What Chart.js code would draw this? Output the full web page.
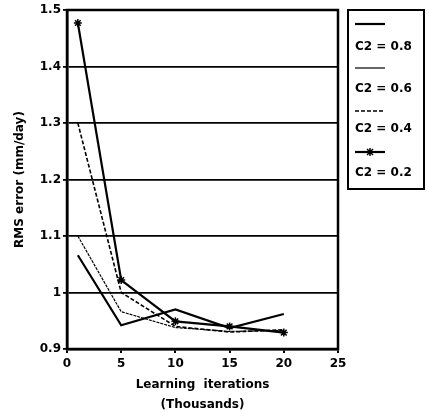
<!DOCTYPE html>
<html>
<head>
<meta charset="utf-8">
<script src="https://cdn.jsdelivr.net/npm/chart.js@4"></script>
<style>
  html, body { margin: 0; padding: 0; background: #fff; }
  #wrap { position: relative; width: 428px; height: 413px; }
  #chart { position: absolute; left: 0; top: 0; }
  #legend {
    position: absolute; left: 347px; top: 9px; width: 74px; height: 177px;
    border: 2px solid #000; font-family: "DejaVu Sans", sans-serif;
    font-weight: bold; font-size: 12px; color: #000;
  }
  #legend .item { position: absolute; left: 6px; line-height: 14px; }
  #legend svg { position: absolute; left: 6px; }
</style>
</head>
<body>
<div id="wrap">
  <canvas id="chart" width="428" height="413"></canvas>
  <div id="legend"></div>
</div>
<script>
const iterations = [1, 5, 10, 15, 20];
const c08 = [1.066, 0.942, 0.970, 0.937, 0.962];
const c06 = [1.100, 0.966, 0.938, 0.931, 0.933];
const c04 = [1.300, 1.000, 0.940, 0.930, 0.934];
const c02 = [1.477, 1.022, 0.949, 0.940, 0.929];
const seriesNames = ['C2 = 0.8', 'C2 = 0.6', 'C2 = 0.4', 'C2 = 0.2'];
const xTicks = [0, 5, 10, 15, 20, 25];
const yTicks = [0.9, 1.0, 1.1, 1.2, 1.3, 1.4, 1.5];

const FONT = '"DejaVu Sans", sans-serif';
const styles = [
  { borderWidth: 2.2, borderDash: [], pointRadius: 0 },
  { borderWidth: 1.2, borderDash: [3, 1], pointRadius: 0 },
  { borderWidth: 1.6, borderDash: [4, 2], pointRadius: 0 },
  { borderWidth: 2.2, borderDash: [], pointRadius: 4, pointStyle: 'star' }
];
// legend samples (the thin series shows as a plain thin line there)
const legendDash = [[], [], [4, 2], []];

const pts = arr => arr.map((v, i) => ({ x: iterations[i], y: v }));

// frame around the plot area
const frame = {
  id: 'frame',
  afterDraw(chart) {
    const { ctx, chartArea: a } = chart;
    ctx.save();
    ctx.strokeStyle = '#000';
    ctx.lineWidth = 2.5;
    ctx.strokeRect(a.left, a.top, a.right - a.left, a.bottom - a.top);
    ctx.restore();
  }
};

new Chart(document.getElementById('chart'), {
  type: 'line',
  data: {
    datasets: [c08, c06, c04, c02].map((d, i) => ({
      label: seriesNames[i],
      data: pts(d),
      borderColor: '#000',
      backgroundColor: '#000',
      pointBorderColor: '#000',
      pointBorderWidth: 1.5,
      tension: 0,
      ...styles[i]
    }))
  },
  options: {
    responsive: false,
    animation: false,
    layout: { padding: { top: 10, right: 90, left: 13, bottom: 0 } },
    plugins: { legend: { display: false }, tooltip: { enabled: false } },
    scales: {
      x: {
        type: 'linear', min: 0, max: 25,
        afterBuildTicks: s => { s.ticks = xTicks.map(v => ({ value: v })); },
        afterFit: s => { s.height = 64; },
        grid: { drawOnChartArea: false, color: '#000', lineWidth: 2, tickLength: 4 },
        border: { color: '#000', width: 2.5 },
        ticks: { color: '#000', font: { family: FONT, size: 12, weight: 'bold' }, padding: 4, maxRotation: 0 },
        title: {
          display: true, text: ['Learning  iterations', '(Thousands)'], color: '#000',
          font: { family: FONT, size: 12, weight: 'bold', lineHeight: 1.65 }, padding: { top: 4, bottom: -2 }
        }
      },
      y: {
        min: 0.9, max: 1.5,
        afterBuildTicks: s => { s.ticks = yTicks.map(v => ({ value: v })); },
        afterFit: s => { s.width = 54; },
        grid: { color: '#000', lineWidth: 1.8, tickLength: 4 },
        border: { color: '#000', width: 2.5 },
        ticks: {
          color: '#000', font: { family: FONT, size: 12, weight: 'bold' }, padding: 2,
          callback: v => Math.abs(v - 1) < 1e-9 ? '1' : v.toFixed(1)
        },
        title: {
          display: true, text: 'RMS error (mm/day)', color: '#000',
          font: { family: FONT, size: 12, weight: 'bold' }, padding: { top: 0, bottom: 4 }
        }
      }
    }
  },
  plugins: [frame]
});

// legend: line sample above each label
const legend = document.getElementById('legend');
const sampleY = [13, 57, 100, 141];
const textY = [28, 70, 110, 154];
seriesNames.forEach((name, i) => {
  const st = styles[i];
  let marker = '';
  if (st.pointStyle === 'star') {
    marker = '<path d="M15 2 V10 M11 6 H19 M12 3 L18 9 M18 3 L12 9" stroke="#000" stroke-width="1.5"/>';
  }
  const svg = `<svg width="32" height="12" style="top:${sampleY[i] - 6}px">
    <line x1="0" y1="6" x2="30" y2="6" stroke="#000" stroke-width="${st.borderWidth}"
      stroke-dasharray="${legendDash[i].join(',') || 'none'}"/>${marker}</svg>`;
  legend.insertAdjacentHTML('beforeend', svg);
  legend.insertAdjacentHTML('beforeend', `<div class="item" style="top:${textY[i]}px">${name}</div>`);
});
</script>
</body>
</html>
